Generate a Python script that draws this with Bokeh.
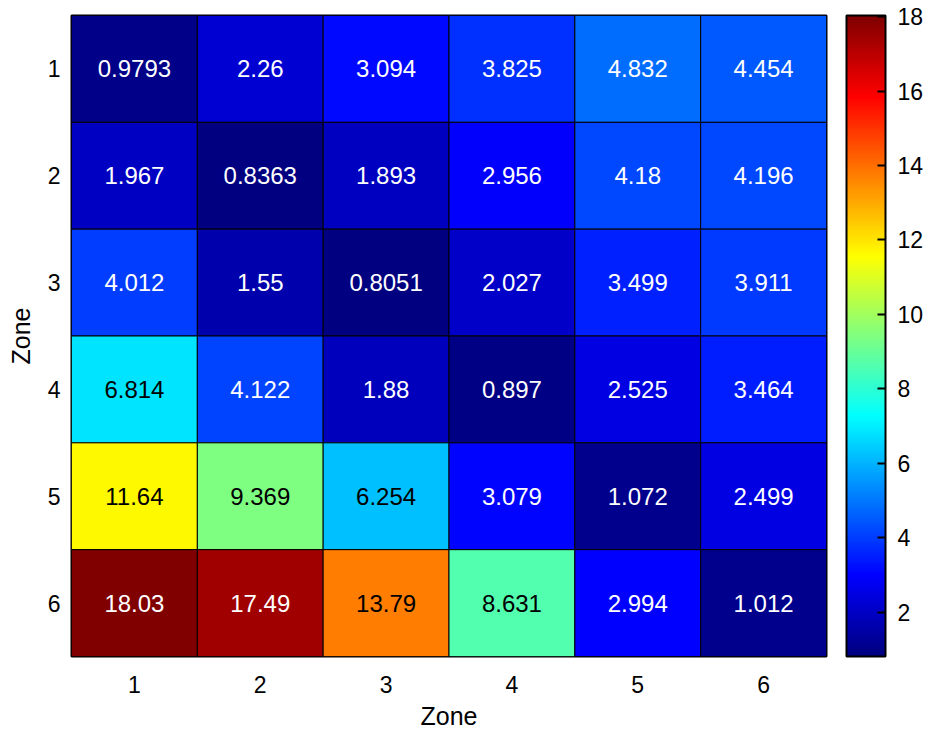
import numpy as np
from bokeh.plotting import figure
from bokeh.models import (ColumnDataSource, LinearColorMapper, ColorBar,
                          FixedTicker, Range1d, LinearAxis)
from bokeh.transform import transform
from bokeh.core.properties import value
from bokeh.embed import file_html
from bokeh.resources import INLINE

# ---- data ----
zones = [1, 2, 3, 4, 5, 6]
row1 = [0.9793, 2.26, 3.094, 3.825, 4.832, 4.454]
row2 = [1.967, 0.8363, 1.893, 2.956, 4.18, 4.196]
row3 = [4.012, 1.55, 0.8051, 2.027, 3.499, 3.911]
row4 = [6.814, 4.122, 1.88, 0.897, 2.525, 3.464]
row5 = [11.64, 9.369, 6.254, 3.079, 1.072, 2.499]
row6 = [18.03, 17.49, 13.79, 8.631, 2.994, 1.012]
rows = [row1, row2, row3, row4, row5, row6]
cbar_ticks = [2, 4, 6, 8, 10, 12, 14, 16, 18]

# ---- jet palette ----
def jet(t):
    r = np.clip(1.5 - abs(4 * t - 3), 0, 1)
    g = np.clip(1.5 - abs(4 * t - 2), 0, 1)
    b = np.clip(1.5 - abs(4 * t - 1), 0, 1)
    return r, g, b

def hexc(rgb):
    return "#%02x%02x%02x" % tuple(int(round(c * 255)) for c in rgb)

palette = [hexc(jet(i / 255)) for i in range(256)]

vals = [v for r in rows for v in r]
vmin, vmax = min(vals), max(vals)

xs, ys, zs, labels, tcols = [], [], [], [], []
for i, r in enumerate(rows):
    for j, v in enumerate(r):
        xs.append(zones[j])
        ys.append(zones[i])
        zs.append(v)
        labels.append("%.4g" % v)
        rr, gg, bb = jet((v - vmin) / (vmax - vmin))
        lum = 0.2126 * rr + 0.7152 * gg + 0.0722 * bb
        tcols.append("black" if lum > 0.5 else "white")

src = ColumnDataSource(dict(x=xs, y=ys, z=zs, label=labels, tc=tcols))
mapper = LinearColorMapper(palette=palette, low=vmin, high=vmax)

p = figure(width=933, height=732, output_backend="svg", toolbar_location=None,
           x_range=Range1d(0.5, 6.5), y_range=Range1d(6.5, 0.5),
           min_border_left=71, min_border_right=107, min_border_top=15,
           min_border_bottom=75)

p.rect(x="x", y="y", width=1, height=1, source=src,
       fill_color=transform("z", mapper), line_color="black", line_width=1)
p.text(x="x", y="y", text="label", source=src, text_color="tc",
       text_align="center", text_baseline="middle", text_font_size="24px",
       text_font=value("Liberation Sans"))

p.grid.visible = False
p.outline_line_color = "black"
p.outline_line_width = 2
for ax in (p.xaxis, p.yaxis):
    ax.ticker = FixedTicker(ticks=zones)
    ax.major_tick_line_color = None
    ax.minor_tick_line_color = None
    ax.major_tick_out = 0
    ax.major_tick_in = 0
    ax.minor_tick_out = 0
    ax.minor_tick_in = 0
    ax.axis_line_color = None
    ax.major_label_text_font = "Liberation Sans"
    ax.major_label_text_font_size = "23px"
    ax.major_label_text_color = "black"
    ax.axis_label = "Zone"
    ax.axis_label_text_font = "Liberation Sans"
    ax.axis_label_text_font_size = "25px"
    ax.axis_label_text_font_style = "normal"
    ax.axis_label_text_color = "black"
p.xaxis.major_label_standoff = 19
p.yaxis.major_label_standoff = 11
p.xaxis.axis_label_standoff = 6
p.yaxis.axis_label_standoff = 10

# spacer between the frame and the colour bar
spacer = LinearAxis(ticker=FixedTicker(ticks=[3]), major_tick_out=20,
                    major_tick_in=0, minor_tick_out=0, minor_tick_in=0,
                    major_label_standoff=0, major_label_text_font_size="1px",
                    major_label_text_alpha=0,
                    axis_line_color=None, major_tick_line_color=None,
                    minor_tick_line_color=None)
p.add_layout(spacer, "right")

cb = ColorBar(color_mapper=mapper, ticker=FixedTicker(ticks=cbar_ticks),
              width=39, padding=0, margin=0,
              major_tick_in=8, major_tick_out=0,
              major_tick_line_color="black", major_tick_line_width=2,
              minor_tick_line_color=None,
              bar_line_color="black", bar_line_width=2,
              border_line_color=None, background_fill_color=None,
              major_label_text_font="Liberation Sans",
              major_label_text_font_size="23px",
              major_label_text_color="black",
              label_standoff=12)
p.add_layout(cb, "right")

open("out.html", "w").write(file_html(p, INLINE))
